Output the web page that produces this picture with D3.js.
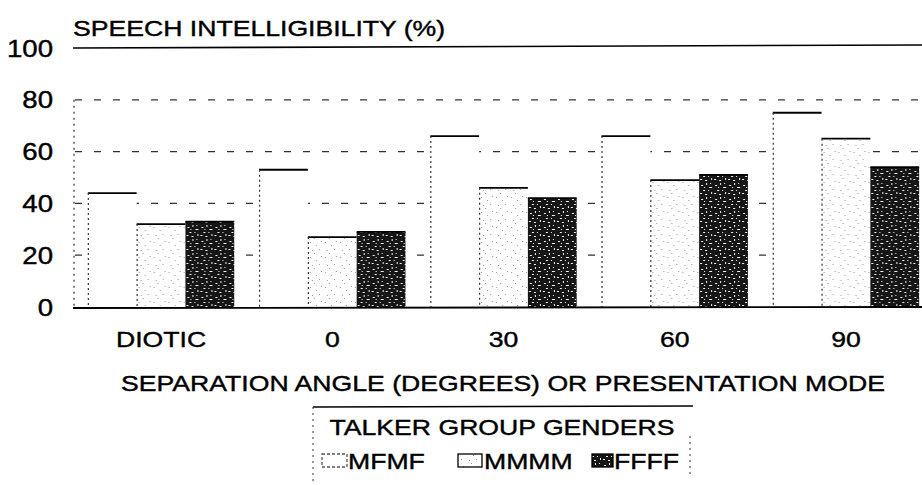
<!DOCTYPE html>
<html>
<head>
<meta charset="utf-8">
<script src="https://cdn.jsdelivr.net/npm/d3@7"></script>
<style>
    html, body { margin: 0; padding: 0; background: #fff; }
    svg { display: block; }
    text { font-family: "Liberation Sans", Arial, Helvetica, sans-serif; fill: #000;
           stroke: #000; stroke-width: 0.4px; }
</style>
</head>
<body>
<div id="chart"></div>
<script>
// chart data
const groups = ["DIOTIC", "0", "30", "60", "90"];
const series = ["MFMF", "MMMM", "FFFF"];
const mfmf = [44, 53, 66, 66, 75];
const mmmm = [32, 27, 46, 49, 65];
const ffff = [33, 29, 42, 51, 54];
const yTicks = [0, 20, 40, 60, 80, 100];
const gridTicks = [20, 40, 60, 80];

const width = 922;
const height = 485;
const stretch = 1.21; // scanned type is wide

const svg = d3.select("#chart")
    .append("svg")
    .attr("width", width)
    .attr("height", height);

// fill textures for the scanned shading
const defs = svg.append("defs");

const light = defs.append("pattern")
    .attr("id", "light")
    .attr("width", 15).attr("height", 15)
    .attr("patternUnits", "userSpaceOnUse");
light.append("rect").attr("width", 15).attr("height", 15).attr("fill", "#fff");
[[2, 2], [8, 5], [4, 10], [11, 9], [13, 1], [6, 13]].forEach(([x, y]) => {
    light.append("rect").attr("x", x).attr("y", y)
        .attr("width", 1).attr("height", 1).attr("fill", "#999");
});

const dark = defs.append("pattern")
    .attr("id", "dark")
    .attr("width", 14).attr("height", 14)
    .attr("patternUnits", "userSpaceOnUse");
dark.append("rect").attr("width", 14).attr("height", 14).attr("fill", "#161616");
[[2, 3, 2, 1], [7, 1, 1, 2], [10, 5, 3, 1], [4, 8, 2, 1], [12, 10, 1, 2],
 [1, 11, 2, 1], [6, 12, 2, 1], [9, 8, 1, 1], [5, 5, 1, 1], [11, 1, 1, 1]].forEach(([x, y, w, h]) => {
    dark.append("rect").attr("x", x).attr("y", y)
        .attr("width", w).attr("height", h).attr("fill", "#f2f2f2");
});

const fills = { MFMF: "#fff", MMMM: "url(#light)", FFFF: "url(#dark)" };

// scales
const x0 = d3.scaleBand()
    .domain(groups)
    .range([75, 932])
    .paddingInner(0.145)
    .paddingOuter(0.075);

const x1 = d3.scaleBand()
    .domain(series)
    .range([0, x0.bandwidth()]);

const y = d3.scaleLinear()
    .domain([0, 100])
    .range([307, 48]);

function wideText(sel, x, yy, str, size, anchor, sx) {
    return sel.append("text")
        .attr("transform", `translate(${x},${yy}) scale(${sx || stretch},1)`)
        .attr("text-anchor", anchor || "start")
        .style("font-size", `${size}px`)
        .text(str);
}

// dashed grid, behind bars
svg.append("g")
    .selectAll("line")
    .data(gridTicks)
    .join("line")
    .attr("x1", 75).attr("x2", width)
    .attr("y1", d => y(d)).attr("y2", d => y(d))
    .attr("stroke", "#333")
    .attr("stroke-width", 1.2)
    .attr("stroke-dasharray", d => d === 20 ? "7 164" : "7 12");

// top line at 100
svg.append("line")
    .attr("x1", 73).attr("x2", width)
    .attr("y1", y(100)).attr("y2", y(100) - 3)
    .attr("stroke", "#000").attr("stroke-width", 1.6);

// dotted y axis
svg.append("line")
    .attr("x1", 74).attr("x2", 74)
    .attr("y1", y(80)).attr("y2", y(0))
    .attr("stroke", "#333").attr("stroke-width", 1.2)
    .attr("stroke-dasharray", "2 4");

// bars
const rows = groups.map((g, i) => ({
    group: g,
    values: [
        { key: "MFMF", value: mfmf[i] },
        { key: "MMMM", value: mmmm[i] },
        { key: "FFFF", value: ffff[i] }
    ]
}));

const cell = svg.append("g")
    .selectAll("g")
    .data(rows)
    .join("g")
    .attr("transform", d => `translate(${x0(d.group)},0)`);

const bar = cell.selectAll("g")
    .data(d => d.values)
    .join("g")
    .attr("transform", d => `translate(${x1(d.key)},0)`);

bar.append("rect")
    .attr("y", d => y(d.value))
    .attr("width", x1.bandwidth())
    .attr("height", d => y(0) - y(d.value))
    .attr("fill", d => fills[d.key]);

// scanned edges: solid tops, broken sides
bar.append("line")
    .attr("x1", 0).attr("x2", x1.bandwidth())
    .attr("y1", d => y(d.value)).attr("y2", d => y(d.value))
    .attr("stroke", "#000").attr("stroke-width", 1.8);

bar.filter(d => d.key !== "FFFF")
    .append("line")
    .attr("x1", 0.5).attr("x2", 0.5)
    .attr("y1", d => y(d.value)).attr("y2", y(0))
    .attr("stroke", "#333").attr("stroke-width", 1.2)
    .attr("stroke-dasharray", "2 3");

// baseline
svg.append("line")
    .attr("x1", 73).attr("x2", width)
    .attr("y1", y(0) + 1).attr("y2", y(0))
    .attr("stroke", "#000").attr("stroke-width", 1.8);

// y tick labels
yTicks.forEach(t => wideText(svg, 53, y(t) + 8.5, t, 23, "end", 1.2));

// title
wideText(svg, 73, 36, "SPEECH INTELLIGIBILITY (%)", 22);

// x labels
groups.forEach(g => wideText(svg, x0(g) + x0.bandwidth() / 2, 347, g, 22, "middle"));

wideText(svg, 503, 391, "SEPARATION ANGLE (DEGREES) OR PRESENTATION MODE", 22, "middle");

// legend
const legend = svg.append("g");

legend.append("line")
    .attr("x1", 313).attr("x2", 693)
    .attr("y1", 407).attr("y2", 406)
    .attr("stroke", "#000").attr("stroke-width", 1.6);
legend.append("line")
    .attr("x1", 313).attr("x2", 313)
    .attr("y1", 407).attr("y2", height)
    .attr("stroke", "#333").attr("stroke-dasharray", "2 4");
legend.append("line")
    .attr("x1", 690).attr("x2", 690)
    .attr("y1", 436).attr("y2", 476)
    .attr("stroke", "#333").attr("stroke-dasharray", "2 4");

wideText(legend, 502, 435, "TALKER GROUP GENDERS", 22, "middle");

const legendItems = [
    { key: "MFMF", sx: 322, sw: 25, tx: 348 },
    { key: "MMMM", sx: 458, sw: 24, tx: 484 },
    { key: "FFFF", sx: 592, sw: 21, tx: 614 }
];

legendItems.forEach(it => {
    legend.append("rect")
        .attr("x", it.sx).attr("y", 454)
        .attr("width", it.sw).attr("height", 13)
        .attr("fill", fills[it.key])
        .attr("stroke", it.key === "MFMF" ? "#555" : "#000")
        .attr("stroke-width", 1.3)
        .attr("stroke-dasharray", it.key === "MFMF" ? "3 2" : null);
    wideText(legend, it.tx, 469, it.key, 22);
});
</script>
</body>
</html>
